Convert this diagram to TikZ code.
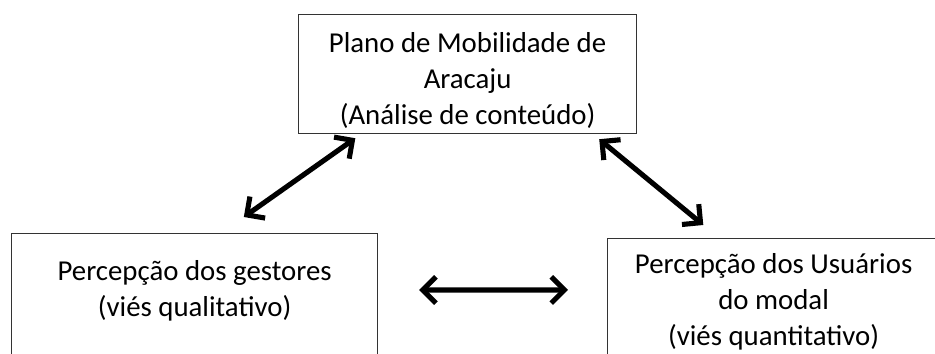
\documentclass[tikz,border=0pt]{standalone}
\usepackage{fontspec}
\setmainfont{Carlito}
\usepackage{tikz}
\usetikzlibrary{calc, positioning, arrows.meta}

\begin{document}
\begin{tikzpicture}[
  caixa/.style={draw=black!80, line width=0.7pt, rectangle, inner sep=0pt, anchor=north west},
  texto/.style={align=center, inner sep=0pt, font=\fontsize{16.4}{20.4}\selectfont},
  seta/.style={{Straight Barb[length=7.5pt,width=15pt]}-{Straight Barb[length=7.5pt,width=15pt]}, line width=2.9pt, line cap=round, line join=round}
]
\useasboundingbox (0,0) rectangle (18.7,7.08);
\clip (0,0) rectangle (18.7,7.08);
% caixas
\node[caixa, minimum width=6.76cm, minimum height=2.38cm] (plano) at (5.96,6.80) {};
\node[caixa, minimum width=7.32cm, minimum height=3cm] (gestores) at (0.22,2.42) {};
\node[caixa, minimum width=6.64cm, minimum height=3cm] (usuarios) at (12.14,2.32) {};
% textos
\node[texto, below=0.36cm of plano.north] (planotxt) {Plano de Mobilidade de\\Aracaju\\(Análise de conteúdo)};
\node[texto, below=0.54cm of gestores.north] (gestorestxt) {Percepção dos gestores\\(viés qualitativo)};
\node[texto, below=0.30cm of usuarios.north] (usuariostxt) {Percepção dos Usuários\\do modal\\(viés quantitativo)};
% setas
\draw[seta] ($(gestores.north west)!0.634!(gestores.north east)+(0,0.32)$) -- ($(plano.south west)!0.169!(plano.south east)+(0,-0.08)$);
\draw[seta] ($(plano.south west)!0.888!(plano.south east)+(0,-0.10)$) -- ($(usuarios.north west)!0.289!(usuarios.north east)+(0,0.26)$);
\draw[seta] ([xshift=0.82cm,yshift=-1.14cm]gestores.north east) -- ([xshift=-0.78cm,yshift=-1.04cm]usuarios.north west);
\end{tikzpicture}
\end{document}
